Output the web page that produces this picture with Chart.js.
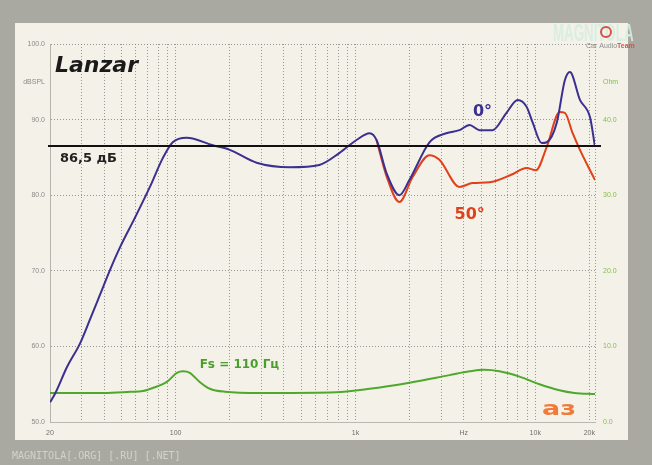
<!DOCTYPE html>
<html>
<head>
<meta charset="utf-8">
<script src="https://cdn.jsdelivr.net/npm/chart.js@4/dist/chart.umd.min.js"></script>
<style>
  html, body { margin: 0; padding: 0; background: #a9a9a1; overflow: hidden; }
  canvas { display: block; }
</style>
</head>
<body>
<canvas id="c" width="652" height="465"></canvas>
<script>
// On-axis response (0°), dB SPL
const onAxisFreq = [20, 21.4, 24.9, 29.4, 33.3, 37.9, 43.1, 49, 59.3, 71.9, 84.8, 96.3, 115, 161, 200, 282, 433, 630, 816, 1013, 1200, 1310, 1490, 1755, 1995, 2580, 3200, 3790, 4310, 4900, 5790, 6920, 7990, 8950, 9680, 10860, 11590, 13180, 14610, 15590, 17730, 20170, 21500];
const onAxisDb   = [52.6, 53.8, 57.3, 60.4, 63.5, 66.8, 70.1, 73.1, 77.0, 81.1, 84.9, 87.0, 87.6, 86.6, 86.0, 84.3, 83.7, 84.0, 85.6, 87.3, 88.2, 87.3, 82.9, 80.0, 82.0, 87.0, 88.2, 88.6, 89.3, 88.6, 88.6, 90.9, 92.6, 91.7, 89.6, 86.9, 87.0, 89.6, 95.2, 96.3, 92.6, 90.3, 86.4];

// Off-axis response (50°), dB SPL
const offAxisFreq = [1310, 1490, 1755, 2080, 2580, 2930, 3790, 4480, 5570, 7350, 8950, 10100, 11590, 13690, 14610, 16150, 17730, 20170, 21500];
const offAxisDb   = [87.3, 82.5, 79.1, 82.4, 85.3, 84.7, 81.1, 81.6, 81.7, 82.7, 83.6, 83.3, 86.4, 91.0, 90.9, 88.2, 86.0, 83.3, 82.0];

// Impedance, Ohm
const impFreq = [20, 40, 56, 65.7, 74.7, 89.3, 101.6, 110, 119.9, 136, 155, 188, 294, 719, 1199, 2000, 3336, 4309, 5220, 6325, 8170, 10553, 13626, 16508, 21500];
const impOhm  = [3.84, 3.84, 4.0, 4.1, 4.5, 5.3, 6.5, 6.7, 6.5, 5.3, 4.4, 4.0, 3.84, 3.9, 4.4, 5.2, 6.2, 6.7, 6.9, 6.7, 6.0, 5.0, 4.2, 3.84, 3.7];

// Sensitivity reference level, dB
const refLevel = 86.5;

// Axes
const freqMin = 20, freqMax = 21500;
const freqGrid = [20, 30, 40, 50, 60, 70, 80, 90, 100, 200, 300, 400, 500, 600, 700, 800, 900,
                  1000, 2000, 3000, 4000, 5000, 6000, 7000, 8000, 9000, 10000, 20000, 21500];
const freqLabelValues = [20, 100, 1000, 4000, 10000, 20000];
const freqLabelTexts  = ['20', '100', '1k', 'Hz', '10k', '20k'];
const splTickValues = [50, 60, 70, 80, 90, 95, 100];
const splTickTexts  = ['50.0', '60.0', '70.0', '80.0', '90.0', 'dBSPL', '100.0'];
const ohmTickValues = [0, 10, 20, 30, 40, 45];
const ohmTickTexts  = ['0.0', '10.0', '20.0', '30.0', '40.0', 'Ohm'];

const toPoints = (xs, ys) => xs.map((x, i) => ({ x, y: ys[i] }));

const tickFont = { family: 'Liberation Sans', size: 7 };

// Page background, panel, captions and the reference level line
const decor = {
  id: 'decor',
  beforeDraw(chart) {
    const ctx = chart.ctx;
    ctx.save();
    ctx.fillStyle = '#a9a9a1';
    ctx.fillRect(0, 0, chart.width, chart.height);
    ctx.fillStyle = '#f4f2e8';
    ctx.fillRect(15, 23, 613, 417);
    ctx.restore();
  },
  afterDatasetsDraw(chart) {
    const ctx = chart.ctx;
    const area = chart.chartArea;
    const xs = chart.scales.x, ys = chart.scales.y, zs = chart.scales.z;
    ctx.save();

    // 86.5 dB reference line
    const yRef = ys.getPixelForValue(refLevel);
    ctx.strokeStyle = '#111111';
    ctx.lineWidth = 2;
    ctx.beginPath();
    ctx.moveTo(area.left - 2, yRef);
    ctx.lineTo(area.right + 6, yRef);
    ctx.stroke();

    ctx.textBaseline = 'alphabetic';
    ctx.textAlign = 'left';

    ctx.fillStyle = '#1a1a1a';
    ctx.font = 'italic bold 22px "DejaVu Sans"';
    ctx.fillText('Lanzar', area.left + 5, 72);

    ctx.fillStyle = '#222222';
    ctx.font = 'bold 13px "DejaVu Sans"';
    ctx.fillText('86,5 дБ', area.left + 10, yRef + 16);

    ctx.fillStyle = '#3b2f8f';
    ctx.font = 'bold 16px "DejaVu Sans"';
    ctx.fillText('0°', xs.getPixelForValue(4500), ys.getPixelForValue(90.5));

    ctx.fillStyle = '#e0401a';
    ctx.fillText('50°', xs.getPixelForValue(3560), ys.getPixelForValue(76.8));

    ctx.fillStyle = '#4a9e2a';
    ctx.font = 'bold 12px "DejaVu Sans"';
    ctx.fillText('Fs = 110 Гц', xs.getPixelForValue(136), zs.getPixelForValue(7.2));

    // publication mark
    ctx.save();
    ctx.translate(542, 415);
    ctx.scale(1.35, 1);
    ctx.fillStyle = '#f07a3a';
    ctx.font = 'bold 20px "DejaVu Sans"';
    ctx.fillText('аз', 0, 0);
    ctx.restore();

    // site marks
    ctx.save();
    ctx.translate(553, 41);
    ctx.scale(0.58, 1);
    ctx.fillStyle = 'rgba(214,236,224,0.9)';
    ctx.font = 'bold 23px "Liberation Sans"';
    ctx.fillText('MAGNITOLA', 0, 0);
    ctx.restore();
    ctx.strokeStyle = '#d8504a';
    ctx.lineWidth = 2;
    ctx.beginPath();
    ctx.arc(606, 32, 5, 0, Math.PI * 2);
    ctx.stroke();
    ctx.font = '7px "Liberation Sans"';
    ctx.fillStyle = '#8c8c8c';
    ctx.fillText('Car Audio', 586, 48);
    ctx.fillStyle = '#d8504a';
    ctx.font = 'bold 7px "Liberation Sans"';
    ctx.fillText('Team', 617, 48);

    ctx.fillStyle = '#d2d2cc';
    ctx.font = '10px "DejaVu Sans Mono"';
    ctx.fillText('MAGNITOLA[.ORG] [.RU] [.NET]', 12, 459);

    ctx.restore();
  }
};

new Chart(document.getElementById('c'), {
  type: 'line',
  data: {
    datasets: [
      {
        label: '0°',
        data: toPoints(onAxisFreq, onAxisDb),
        yAxisID: 'y',
        borderColor: '#3b2f8f',
        borderWidth: 2,
        pointRadius: 0,
        cubicInterpolationMode: 'monotone',
        fill: false
      },
      {
        label: '50°',
        data: toPoints(offAxisFreq, offAxisDb),
        yAxisID: 'y',
        borderColor: '#e0401a',
        borderWidth: 2,
        pointRadius: 0,
        cubicInterpolationMode: 'monotone',
        fill: false
      },
      {
        label: 'Z',
        data: toPoints(impFreq, impOhm),
        yAxisID: 'z',
        borderColor: '#4fa82c',
        borderWidth: 2,
        pointRadius: 0,
        cubicInterpolationMode: 'monotone',
        fill: false
      }
    ]
  },
  options: {
    responsive: false,
    animation: false,
    devicePixelRatio: 1,
    layout: { padding: { top: 44, left: 0, right: 0, bottom: 0 } },
    plugins: { legend: { display: false }, tooltip: { enabled: false } },
    scales: {
      x: {
        type: 'logarithmic',
        min: freqMin,
        max: freqMax,
        afterBuildTicks(scale) { scale.ticks = freqGrid.map(v => ({ value: v })); },
        afterFit(scale) { scale.height = 43; },
        ticks: {
          autoSkip: false,
          maxRotation: 0,
          padding: 7,
          color: '#6f6f6f',
          font: tickFont,
          callback(value) {
            const i = freqLabelValues.indexOf(value);
            return i >= 0 ? freqLabelTexts[i] : '';
          }
        },
        grid: { color: 'rgba(120,120,120,0.75)', lineWidth: 1, drawTicks: false },
        border: { display: true, color: '#b8b8b0', width: 1, dash: [1, 2] }
      },
      y: {
        type: 'linear',
        position: 'left',
        min: 50,
        max: 100,
        afterBuildTicks(scale) { scale.ticks = splTickValues.map(v => ({ value: v })); },
        afterFit(scale) { scale.width = 50; },
        ticks: {
          padding: 5,
          color: '#8a8a8a',
          font: tickFont,
          callback(value) {
            const i = splTickValues.indexOf(value);
            return i >= 0 ? splTickTexts[i] : '';
          }
        },
        grid: {
          drawTicks: false,
          lineWidth: 1,
          color: ctx => (ctx.tick && (ctx.tick.value === 95 || ctx.tick.value === 50)) ? 'rgba(0,0,0,0)' : 'rgba(120,120,120,0.75)'
        },
        border: { display: true, color: '#b4b4ac', width: 1, dash: [1, 2] }
      },
      z: {
        type: 'linear',
        position: 'right',
        min: 0,
        max: 50,
        afterBuildTicks(scale) { scale.ticks = ohmTickValues.map(v => ({ value: v })); },
        afterFit(scale) { scale.width = 57; },
        ticks: {
          padding: 8,
          color: '#86c04a',
          font: tickFont,
          callback(value) {
            const i = ohmTickValues.indexOf(value);
            return i >= 0 ? ohmTickTexts[i] : '';
          }
        },
        grid: { display: false, drawTicks: false },
        border: { display: false }
      }
    }
  },
  plugins: [decor]
});
</script>
</body>
</html>
